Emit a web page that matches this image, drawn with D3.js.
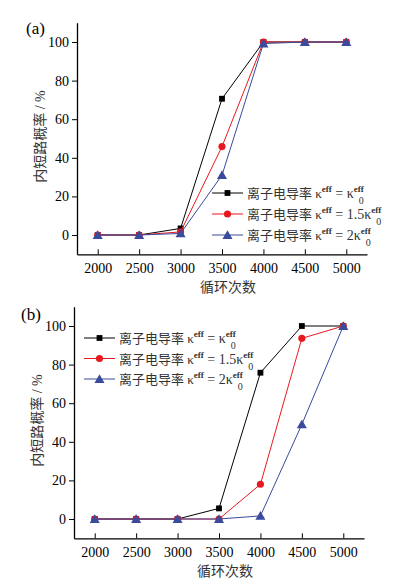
<!DOCTYPE html>
<html>
<head>
<meta charset="utf-8">
<script src="https://cdn.jsdelivr.net/npm/d3@7"></script>
<style>
body{margin:0;background:#fff;}
text{font-family:"Liberation Serif","Noto Sans CJK SC",serif;}
</style>
</head>
<body>
<div id="wrapper"></div>
<script>
// Data
const cycles = [2000, 2500, 3000, 3500, 4000, 4500, 5000];
const yTicks = [0, 20, 40, 60, 80, 100];
const seriesNames = ['κ', '1.5κ', '2κ'];
const colors = ['#000000', '#e8191e', '#3a4a9c'];
const symbols = [d3.symbolSquare, d3.symbolCircle, d3.symbolTriangle];
const symSizes = [34, 40, 44];

const aBlack = [0, 0, 3.4, 70.6, 100, 100, 100];
const aRed   = [0, 0, 1.6, 45.8, 100, 100, 100];
const aBlue  = [0, 0, 0.8, 31, 99.2, 100, 100];

const bBlack = [0, 0, 0, 5.5, 75.8, 100, 100];
const bRed   = [0, 0, 0, 0, 18, 93.6, 100];
const bBlue  = [0, 0, 0, 0, 1.6, 49, 100];

const xLabel = '循环次数';
const yLabel = '内短路概率 / %';

// Layout
const panels = [
  {tag:'(a)', series:[aBlack, aRed, aBlue], left:77, right:367, top:22.7, bottom:254.3,
   tagX:26, tagY:34, legX:212, legY:193, legStep:21},
  {tag:'(b)', series:[bBlack, bRed, bBlue], left:74, right:364, top:306.7, bottom:538.3,
   tagX:21, tagY:320, legX:84, legY:338, legStep:20.5}
];
const fontFam = '"Liberation Serif","Noto Sans CJK SC",serif';

const svg = d3.select('#wrapper').append('svg')
  .attr('width', 399).attr('height', 588);

panels.forEach(p => {
  const g = svg.append('g');
  const xScale = d3.scaleLinear().domain([1750, 5250]).range([p.left, p.right]);
  const yScale = d3.scaleLinear().domain([-10, 110]).range([p.bottom, p.top]);

  // x axis (ticks point inward)
  const xAxis = g.append('g')
    .attr('transform', `translate(0,${p.bottom})`)
    .call(d3.axisBottom(xScale).tickValues(cycles).tickFormat(d3.format('d'))
      .tickSizeInner(-5).tickSizeOuter(0).tickPadding(9));
  xAxis.attr('font-family', fontFam);
  xAxis.select('.domain').attr('stroke-width', 1.3);
  xAxis.selectAll('.tick text').attr('font-size', 14).attr('fill', '#000');

  // y axis (ticks point outward)
  const yAxis = g.append('g')
    .attr('transform', `translate(${p.left},0)`)
    .call(d3.axisLeft(yScale).tickValues(yTicks).tickSizeInner(5).tickSizeOuter(0).tickPadding(3));
  yAxis.attr('font-family', fontFam);
  yAxis.select('.domain').attr('stroke-width', 1.3);
  yAxis.selectAll('.tick text').attr('font-size', 14).attr('fill', '#000');

  // labels
  g.append('text').text(xLabel)
    .attr('x', (p.left + p.right) / 2 + 6).attr('y', p.bottom + 38)
    .attr('text-anchor', 'middle').attr('font-size', 14).attr('fill', '#333');
  g.append('text').text(yLabel)
    .attr('transform', `translate(${p.left - 32},${(p.top + p.bottom) / 2 - 2}) rotate(-90)`)
    .attr('text-anchor', 'middle').attr('font-size', 14).attr('fill', '#333');
  g.append('text').text(p.tag)
    .attr('x', p.tagX).attr('y', p.tagY).attr('font-size', 17).attr('fill', '#000');

  // series
  const line = d3.line().x((d, i) => xScale(cycles[i])).y(d => yScale(d));
  p.series.forEach((vals, s) => {
    g.append('path').datum(vals)
      .attr('d', line).attr('fill', 'none')
      .attr('stroke', colors[s]).attr('stroke-width', 1);
    g.selectAll(null).data(vals).enter().append('path')
      .attr('d', d3.symbol().type(symbols[s]).size(symSizes[s]))
      .attr('transform', (d, i) => `translate(${xScale(cycles[i])},${yScale(d) + (s === 2 ? 1 : 0)})`)
      .attr('fill', colors[s]);
  });

  // legend
  seriesNames.forEach((name, s) => {
    const ly = p.legY + s * p.legStep;
    g.append('line').attr('x1', p.legX).attr('x2', p.legX + 31)
      .attr('y1', ly).attr('y2', ly).attr('stroke', colors[s]).attr('stroke-width', 1);
    g.append('path').attr('d', d3.symbol().type(symbols[s]).size(symSizes[s]))
      .attr('transform', `translate(${p.legX + 15.5},${ly + (s === 2 ? 1 : 0)})`)
      .attr('fill', colors[s]);
    const t = g.append('text').attr('x', p.legX + 35).attr('y', ly + 5)
      .attr('font-size', 13).attr('fill', '#333');
    t.append('tspan').text('离子电导率 κ');
    t.append('tspan').text('eff').attr('dy', -6).attr('font-size', 9).attr('font-weight', 'bold');
    t.append('tspan').text(' = ' + name).attr('dy', 6).attr('font-size', 14);
    t.append('tspan').text('eff').attr('dy', -6).attr('font-size', 9).attr('font-weight', 'bold');
    t.append('tspan').text('0').attr('dy', 12).attr('dx', -5).attr('font-size', 10);
  });
});
</script>
</body>
</html>
